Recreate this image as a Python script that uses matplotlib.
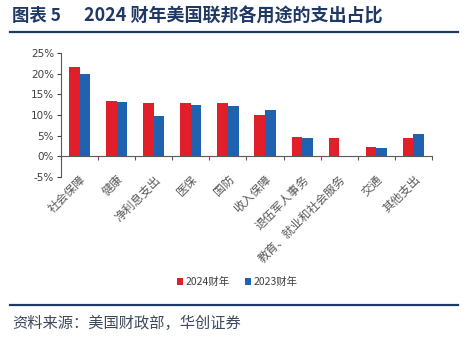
import matplotlib
matplotlib.use("Agg")
import matplotlib.pyplot as plt
from matplotlib.lines import Line2D
import numpy as np

plt.rcParams['font.family'] = ['Noto Sans CJK SC', 'DejaVu Sans']

categories = ['社会保障', '健康', '净利息支出', '医保', '国防', '收入保障',
              '退伍军人事务', '教育、就业和社会服务', '交通', '其他支出']
fy2024 = [21.5, 13.5, 13.0, 13.0, 13.0, 10.0, 4.7, 4.5, 2.2, 4.5]
fy2023 = [20.0, 13.1, 9.7, 12.5, 12.1, 11.3, 4.5, -0.2, 1.9, 5.3]
yticks = [-5, 0, 5, 10, 15, 20, 25]

red = '#e01f2a'
blue = '#1f62b0'
navy = '#1f3864'
grey_text = '#404040'

W, H = 475, 348
fig = plt.figure(figsize=(W / 100, H / 100), dpi=100)

# title and rules
title_y = 1 - 16 / H
fig.text(12 / W, title_y, '图表 5', fontsize=12.5, fontweight='bold',
         color=navy, va='center', ha='left')
fig.text(84 / W, title_y, '2024 财年美国联邦各用途的支出占比', fontsize=13,
         fontweight='bold', color=navy, va='center', ha='left')
fig.add_artist(Line2D([10 / W, 458 / W], [1 - 32 / H] * 2,
                      transform=fig.transFigure, color=navy, lw=1.6))
fig.add_artist(Line2D([10 / W, 458 / W], [1 - 305 / H] * 2,
                      transform=fig.transFigure, color=navy, lw=1.6))
fig.text(12 / W, 1 - 323 / H, '资料来源：美国财政部，华创证券',
         fontsize=11, fontstyle='italic', color='#3c4a5e', va='center', ha='left')

ax = fig.add_axes([61 / W, 1 - 177 / H, 371 / W, 124 / H])
x = np.arange(len(categories))
bw = 0.285
ax.bar(x - bw / 2, fy2024, width=bw, color=red, label='2024财年')
ax.bar(x + bw / 2, fy2023, width=bw, color=blue, label='2023财年')

ax.set_xlim(-0.5, len(categories) - 0.5)
ax.set_ylim(-5, 25)
ax.set_yticks(yticks)
ax.set_yticklabels([f'{v}%' for v in yticks], fontfamily='DejaVu Sans')
ax.tick_params(axis='y', labelsize=7.5, colors=grey_text, length=3, width=0.8, pad=2)

for s in ['top', 'right']:
    ax.spines[s].set_visible(False)
ax.spines['left'].set_color('#595959')
ax.spines['left'].set_linewidth(0.8)
ax.spines['bottom'].set_position(('data', 0))
ax.spines['bottom'].set_color('#595959')
ax.spines['bottom'].set_linewidth(0.8)

ax.set_xticks(x)
ax.set_xticks(np.arange(-0.5, len(categories)), minor=True)
ax.set_xticklabels(categories, rotation=45, ha='right', va='top',
                   rotation_mode='anchor')
ax.tick_params(axis='x', which='major', length=0, pad=12, labelsize=8.5,
               labelcolor='#595959')
ax.tick_params(axis='x', which='minor', length=3, width=0.8, color='#595959',
               direction='out')

fig.legend(loc='center', bbox_to_anchor=(237 / W, 1 - 282 / H), ncol=2,
           frameon=False, fontsize=7.5, handlelength=0.6, handleheight=0.6,
           handletextpad=0.2, columnspacing=1.5, labelcolor=grey_text)

fig.savefig('out.png', dpi=100)
